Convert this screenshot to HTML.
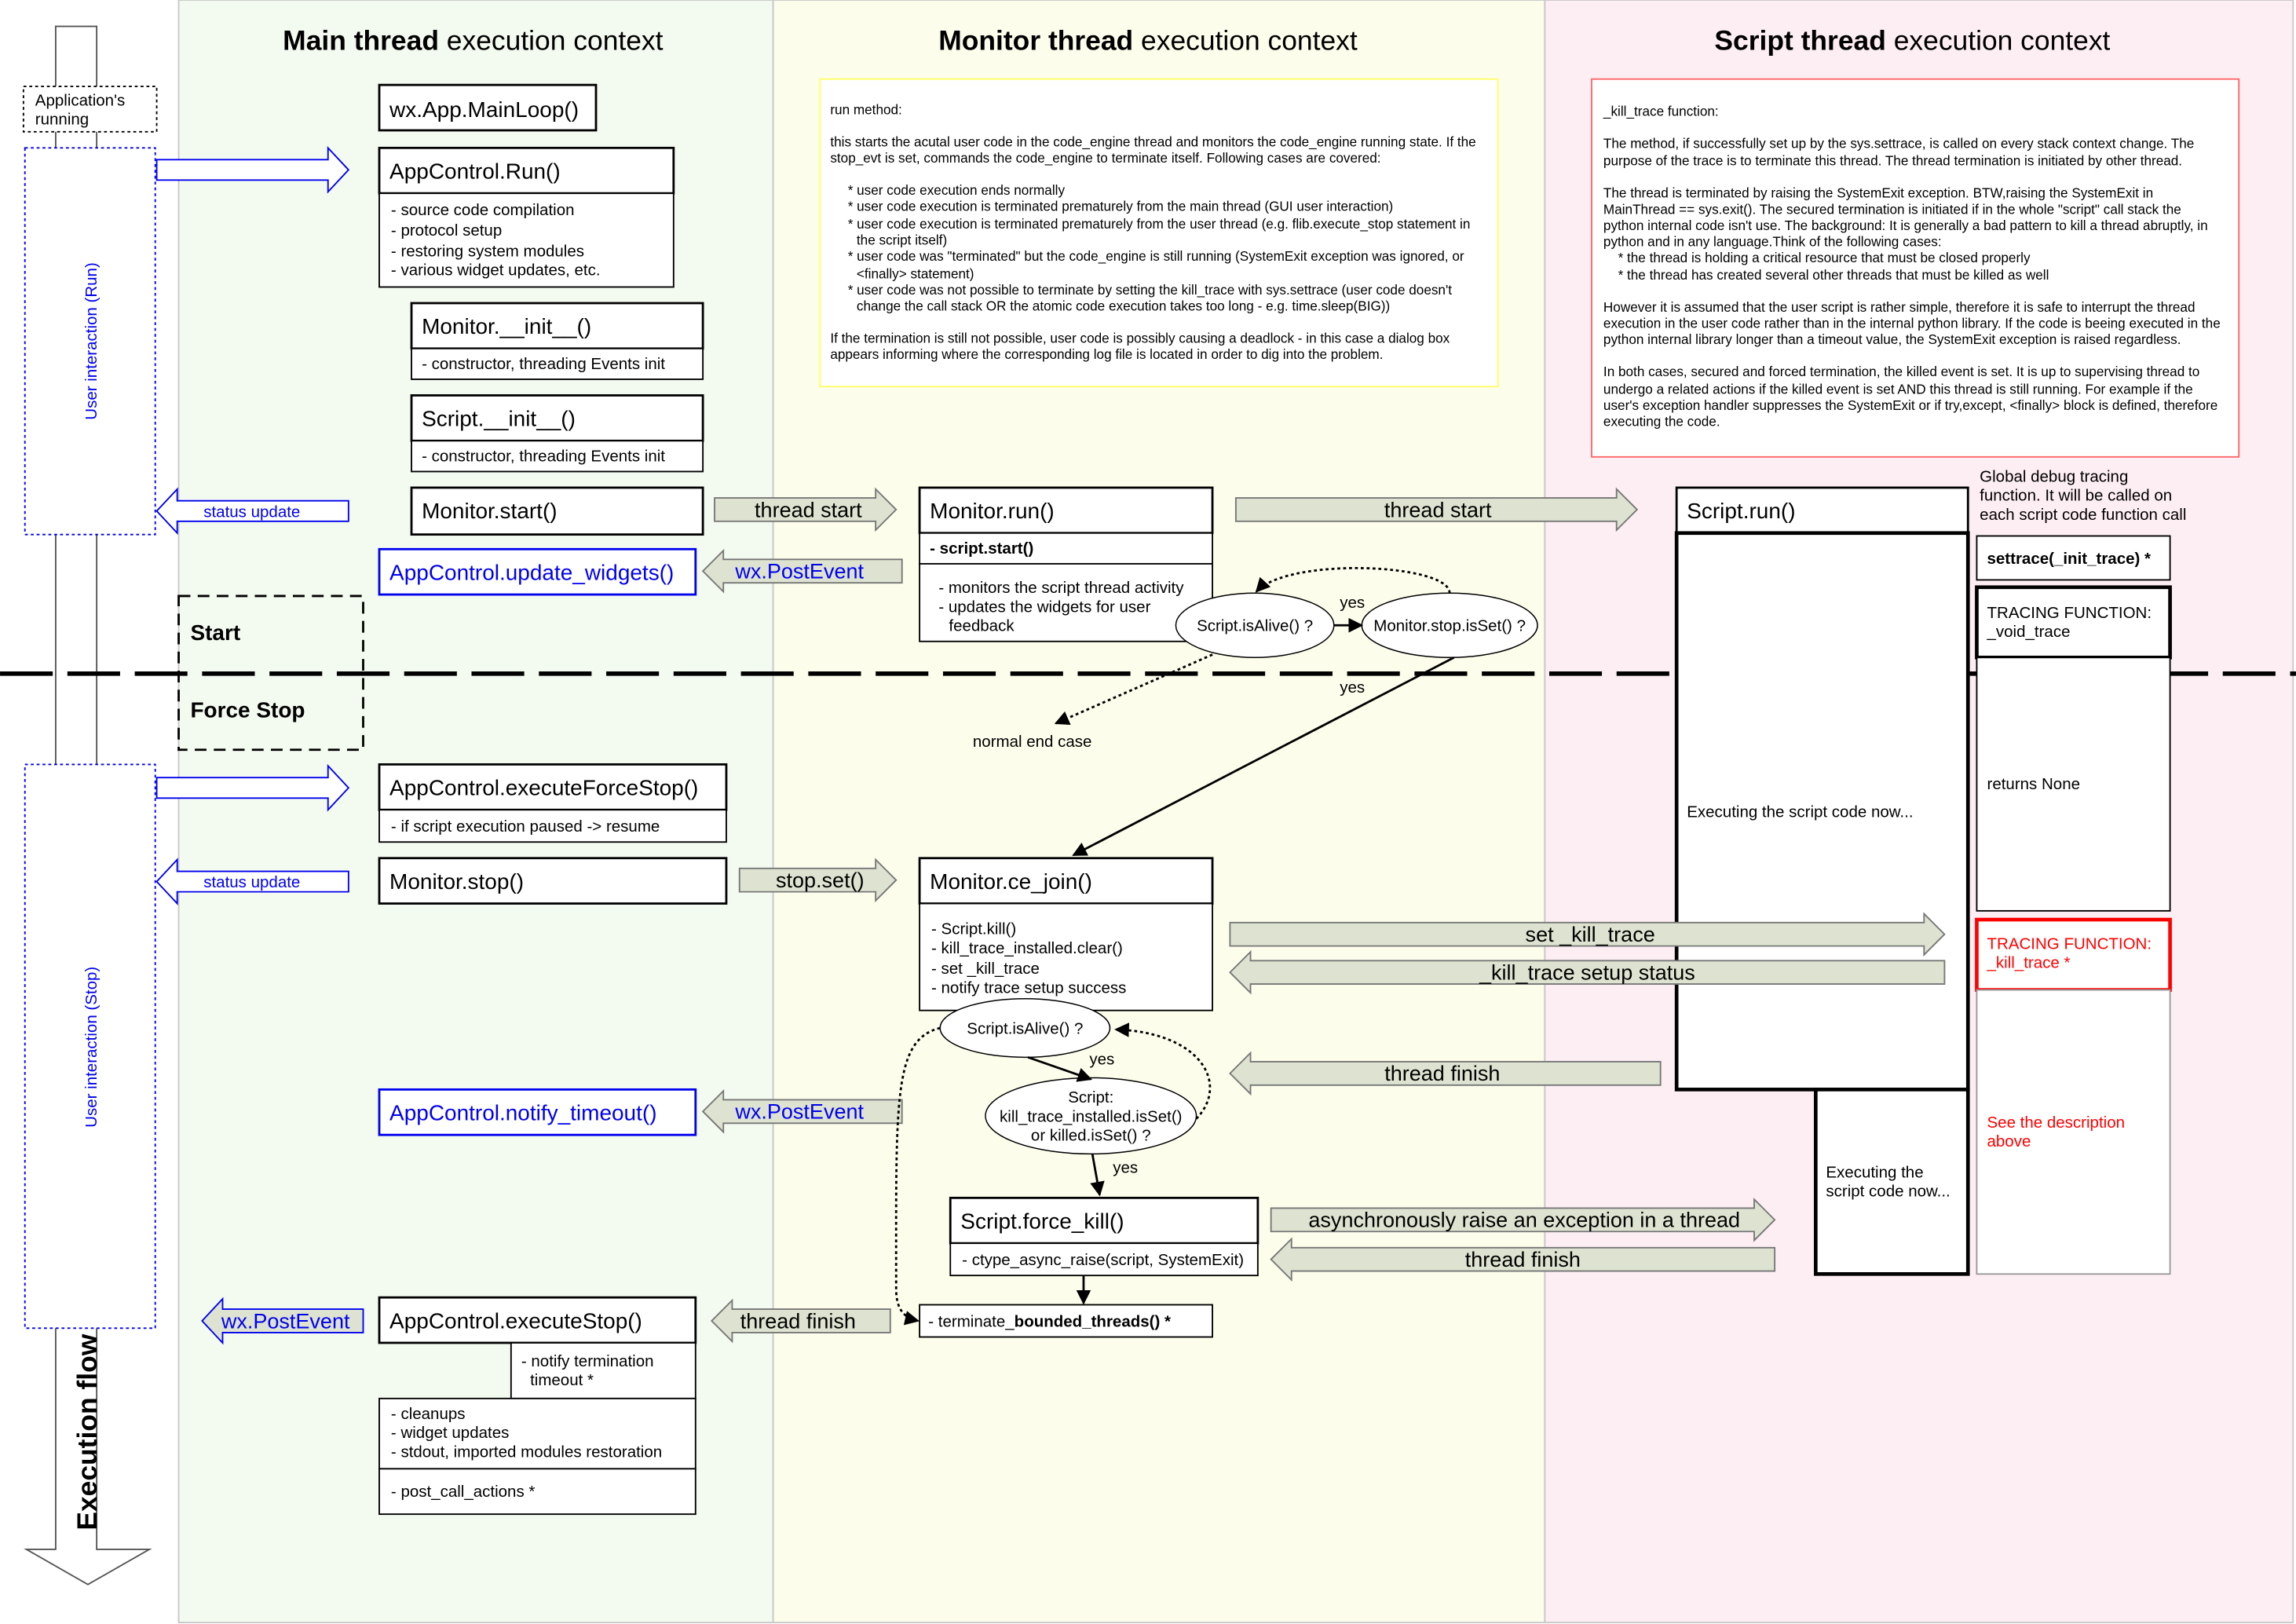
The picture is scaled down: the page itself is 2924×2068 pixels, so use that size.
<!DOCTYPE html>
<html><head><meta charset="utf-8"><style>
html,body{margin:0;padding:0;background:#fff}
svg{display:block}
text{font-family:"Liberation Sans",Arial,sans-serif;fill:#000}
.t{font-size:15px}
.b{font-size:11px}
.s{font-size:9.2px}
.a{font-size:14.5px}
.blue{fill:#0000ee}
.red{fill:#ff0000}
</style></head><body>
<svg width="2924" height="2068" viewBox="0 0 1568 1109" xmlns="http://www.w3.org/2000/svg">
<defs>
<marker id="ah" markerWidth="10" markerHeight="10" refX="9" refY="5" orient="auto" markerUnits="userSpaceOnUse"><path d="M0,0 L10,5 L0,10 z" fill="#000"/></marker>
</defs>
<rect width="1568" height="1109" fill="#fff"/>
<rect x="122" y="0" width="406" height="1108" fill="#f3faf0" stroke="#c8c8c8"/>
<rect x="528" y="0" width="527" height="1108" fill="#fdfdec" stroke="#c8c8c8"/>
<rect x="1055" y="0" width="511" height="1108" fill="#fdeef3" stroke="#c8c8c8"/>
<text x="323" y="34" font-size="19" text-anchor="middle"><tspan font-weight="bold">Main thread</tspan> execution context</text>
<text x="784" y="34" font-size="19" text-anchor="middle"><tspan font-weight="bold">Monitor thread</tspan> execution context</text>
<text x="1306" y="34" font-size="19" text-anchor="middle"><tspan font-weight="bold">Script thread</tspan> execution context</text>

<polygon points="38,18 66,18 66,1058 102,1058 60,1082 18,1058 38,1058" fill="#fff" stroke="#555"/>
<text transform="translate(66,978) rotate(-90)" font-size="19" font-weight="bold" text-anchor="middle">Execution flow</text>
<rect x="16" y="59" width="91" height="31" fill="#fff" stroke="#000" stroke-dasharray="2,2"/>
<text x="24" y="72" class="b">Application's</text>
<text x="24" y="85" class="b">running</text>
<rect x="17" y="101" width="89" height="264" fill="#fff" stroke="#0000ee" stroke-dasharray="2,2"/>
<text transform="translate(66,233) rotate(-90)" class="b blue" text-anchor="middle">User interaction (Run)</text>
<rect x="17" y="522" width="89" height="385" fill="#fff" stroke="#0000ee" stroke-dasharray="2,2"/>
<text transform="translate(66,715) rotate(-90)" class="b blue" text-anchor="middle">User interaction (Stop)</text>

<polygon points="107,109 224,109 224,101 238,116 224,131 224,123 107,123" fill="#fff" stroke="#0000ee"/>
<polygon points="107,531 224,531 224,523 238,538 224,553 224,545 107,545" fill="#fff" stroke="#0000ee"/>
<polygon points="238,342 121,342 121,334 107,349 121,364 121,356 238,356" fill="#fff" stroke="#0000ee"/>
<text x="172" y="353" class="b blue" text-anchor="middle">status update</text>
<polygon points="238,595 121,595 121,587 107,602 121,617 121,609 238,609" fill="#fff" stroke="#0000ee"/>
<text x="172" y="606" class="b blue" text-anchor="middle">status update</text>
<polygon points="248,894 152,894 152,887 138,902 152,917 152,910 248,910" fill="#dde3d0" stroke="#0000ee"/>
<text x="195" y="907" class="a blue" text-anchor="middle">wx.PostEvent</text>

<line x1="0" y1="460" x2="1568" y2="460" stroke="#000" stroke-width="3" stroke-dasharray="36,10"/>
<rect x="122" y="407" width="126" height="105" fill="none" stroke="#000" stroke-width="1.5" stroke-dasharray="8,5"/>
<text x="130" y="437" font-size="15" font-weight="bold">Start</text>
<text x="130" y="490" font-size="15" font-weight="bold">Force Stop</text>

<g fill="#fff" stroke="#000">
<rect x="259" y="58" width="148" height="31" stroke-width="1.5"/>
<rect x="259" y="101" width="201" height="31" stroke-width="1.5"/>
<rect x="259" y="132" width="201" height="64"/>
<rect x="281" y="207" width="199" height="31" stroke-width="1.5"/>
<rect x="281" y="238" width="199" height="21"/>
<rect x="281" y="270" width="199" height="31" stroke-width="1.5"/>
<rect x="281" y="301" width="199" height="21"/>
<rect x="281" y="333" width="199" height="32" stroke-width="1.5"/>
<rect x="259" y="375" width="216" height="31" stroke="#0000ee" stroke-width="1.5"/>
<rect x="259" y="522" width="237" height="31" stroke-width="1.5"/>
<rect x="259" y="553" width="237" height="22"/>
<rect x="259" y="586" width="237" height="31" stroke-width="1.5"/>
<rect x="259" y="744" width="216" height="31" stroke="#0000ee" stroke-width="1.5"/>
<rect x="259" y="886" width="216" height="31" stroke-width="1.5"/>
<rect x="349" y="917" width="126" height="38"/>
<rect x="259" y="955" width="216" height="48"/>
<rect x="259" y="1003" width="216" height="31"/>
</g>
<text x="266" y="80" class="t">wx.App.MainLoop()</text>
<text x="266" y="122" class="t">AppControl.Run()</text>
<text x="267" y="147" class="b">- source code compilation</text>
<text x="267" y="161" class="b">- protocol setup</text>
<text x="267" y="175" class="b">- restoring system modules</text>
<text x="267" y="188" class="b">- various widget updates, etc.</text>
<text x="288" y="228" class="t">Monitor.__init__()</text>
<text x="288" y="252" class="b">- constructor, threading Events init</text>
<text x="288" y="291" class="t">Script.__init__()</text>
<text x="288" y="315" class="b">- constructor, threading Events init</text>
<text x="288" y="354" class="t">Monitor.start()</text>
<text x="266" y="396" class="t blue">AppControl.update_widgets()</text>
<text x="266" y="543" class="t">AppControl.executeForceStop()</text>
<text x="267" y="568" class="b">- if script execution paused -&gt; resume</text>
<text x="266" y="607" class="t">Monitor.stop()</text>
<text x="266" y="765" class="t blue">AppControl.notify_timeout()</text>
<text x="266" y="907" class="t">AppControl.executeStop()</text>
<text x="356" y="933" class="b">- notify termination</text>
<text x="362" y="946" class="b">timeout *</text>
<text x="267" y="969" class="b">- cleanups</text>
<text x="267" y="982" class="b">- widget updates</text>
<text x="267" y="995" class="b">- stdout, imported modules restoration</text>
<text x="267" y="1022" class="b">- post_call_actions *</text>

<g fill="#dde3d0" stroke="#777">
<polygon points="488,340 598,340 598,334 612,348 598,362 598,356 488,356"/>
<polygon points="616,382 494,382 494,376 480,390 494,404 494,398 616,398"/>
<polygon points="505,593 598,593 598,587 612,601 598,615 598,609 505,609"/>
<polygon points="616,751 494,751 494,745 480,759 494,773 494,767 616,767"/>
<polygon points="608,894 500,894 500,888 486,902 500,916 500,910 608,910"/>
<polygon points="844,340 1104,340 1104,334 1118,348 1104,362 1104,356 844,356"/>
<polygon points="1134,725 854,725 854,719 840,733 854,747 854,741 1134,741"/>
<polygon points="868,825 1198,825 1198,819 1212,833 1198,847 1198,841 868,841"/>
<polygon points="1212,852 882,852 882,846 868,860 882,874 882,868 1212,868"/>
</g>
<text x="552" y="353" class="a" text-anchor="middle">thread start</text>
<text x="546" y="395" class="a blue" text-anchor="middle">wx.PostEvent</text>
<text x="560" y="606" class="a" text-anchor="middle">stop.set()</text>
<text x="546" y="764" class="a blue" text-anchor="middle">wx.PostEvent</text>
<text x="545" y="907" class="a" text-anchor="middle">thread finish</text>
<text x="982" y="353" class="a" text-anchor="middle">thread start</text>
<text x="985" y="738" class="a" text-anchor="middle">thread finish</text>
<text x="1041" y="838" class="a" text-anchor="middle">asynchronously raise an exception in a thread</text>
<text x="1040" y="865" class="a" text-anchor="middle">thread finish</text>

<rect x="560" y="54" width="463" height="210" fill="#fff" stroke="#ffff66"/>
<text x="567" y="78" class="s">run method:</text>
<text x="567" y="100" class="s">this starts the acutal user code in the code_engine thread and monitors the code_engine running state. If the</text>
<text x="567" y="111" class="s">stop_evt is set, commands the code_engine to terminate itself. Following cases are covered:</text>
<text x="579" y="133" class="s">* user code execution ends normally</text>
<text x="579" y="144" class="s">* user code execution is terminated prematurely from the main thread (GUI user interaction)</text>
<text x="579" y="156" class="s">* user code execution is terminated prematurely from the user thread (e.g. flib.execute_stop statement in</text>
<text x="585" y="167" class="s">the script itself)</text>
<text x="579" y="178" class="s">* user code was "terminated" but the code_engine is still running (SystemExit exception was ignored, or</text>
<text x="585" y="190" class="s">&lt;finally&gt; statement)</text>
<text x="579" y="201" class="s">* user code was not possible to terminate by setting the kill_trace with sys.settrace (user code doesn't</text>
<text x="585" y="212" class="s">change the call stack OR the atomic code execution takes too long - e.g. time.sleep(BIG))</text>
<text x="567" y="234" class="s">If the termination is still not possible, user code is possibly causing a deadlock - in this case a dialog box</text>
<text x="567" y="245" class="s">appears informing where the corresponding log file is located in order to dig into the problem.</text>

<g fill="#fff" stroke="#000">
<rect x="628" y="333" width="200" height="31" stroke-width="1.5"/>
<rect x="628" y="364" width="200" height="21"/>
<rect x="628" y="385" width="200" height="53"/>
<rect x="628" y="586" width="200" height="31" stroke-width="1.5"/>
<rect x="628" y="617" width="200" height="73"/>
<rect x="649" y="818" width="210" height="31" stroke-width="1.5"/>
<rect x="649" y="849" width="210" height="22"/>
<rect x="628" y="891" width="200" height="22"/>
</g>
<text x="635" y="354" class="t">Monitor.run()</text>
<text x="635" y="378" class="b" font-weight="bold">- script.start()</text>
<text x="641" y="405" class="b">- monitors the script thread activity</text>
<text x="641" y="418" class="b">- updates the widgets for user</text>
<text x="648" y="431" class="b">feedback</text>
<text x="635" y="607" class="t">Monitor.ce_join()</text>
<text x="636" y="638" class="b">- Script.kill()</text>
<text x="636" y="651" class="b">- kill_trace_installed.clear()</text>
<text x="636" y="665" class="b">- set _kill_trace</text>
<text x="636" y="678" class="b">- notify trace setup success</text>
<text x="656" y="839" class="t">Script.force_kill()</text>
<text x="657" y="864" class="b">- ctype_async_raise(script, SystemExit)</text>
<text x="634" y="906" class="b">- terminate_<tspan font-weight="bold">bounded_threads() *</tspan></text>

<g fill="#fff" stroke="#000" stroke-width="0.8">
<ellipse cx="857" cy="427" rx="54" ry="22"/>
<ellipse cx="990" cy="427" rx="60" ry="22"/>
<ellipse cx="700" cy="702" rx="58" ry="20"/>
<ellipse cx="745" cy="762" rx="72" ry="26"/>
</g>
<text x="857" y="431" class="b" text-anchor="middle">Script.isAlive() ?</text>
<text x="990" y="431" class="b" text-anchor="middle">Monitor.stop.isSet() ?</text>
<text x="700" y="706" class="b" text-anchor="middle">Script.isAlive() ?</text>
<text x="745" y="753" class="b" text-anchor="middle">Script:</text>
<text x="745" y="766" class="b" text-anchor="middle">kill_trace_installed.isSet()</text>
<text x="745" y="779" class="b" text-anchor="middle">or killed.isSet() ?</text>

<g stroke="#000" fill="none" stroke-width="1.5">
<line x1="911" y1="427" x2="930" y2="427" marker-end="url(#ah)"/>
<path d="M990,405 C990,385 880,380 858,404" stroke-dasharray="2,2" marker-end="url(#ah)"/>
<line x1="828" y1="447" x2="721" y2="494" stroke-dasharray="2,2" marker-end="url(#ah)"/>
<line x1="993" y1="449" x2="733" y2="584" marker-end="url(#ah)"/>
<line x1="702" y1="722" x2="745" y2="737" marker-end="url(#ah)"/>
<path d="M817,764 C840,740 820,705 762,703" stroke-dasharray="2,2" marker-end="url(#ah)"/>
<line x1="746" y1="788" x2="751" y2="816" marker-end="url(#ah)"/>
<path d="M642,702 C610,710 612,750 612,880 C612,895 618,900 627,902" stroke-dasharray="2,2" marker-end="url(#ah)"/>
<line x1="740" y1="871" x2="740" y2="890" marker-end="url(#ah)"/>
</g>
<text x="915" y="415" class="b">yes</text>
<text x="915" y="473" class="b">yes</text>
<text x="705" y="510" class="b" text-anchor="middle">normal end case</text>
<text x="744" y="727" class="b">yes</text>
<text x="760" y="801" class="b">yes</text>

<rect x="1087" y="54" width="442" height="258" fill="#fff" stroke="#ff6666"/>
<text x="1095" y="79" class="s">_kill_trace function:</text>
<text x="1095" y="101" class="s">The method, if successfully set up by the sys.settrace, is called on every stack context change. The</text>
<text x="1095" y="113" class="s">purpose of the trace is to terminate this thread. The thread termination is initiated by other thread.</text>
<text x="1095" y="135" class="s">The thread is terminated by raising the SystemExit exception. BTW,raising the SystemExit in</text>
<text x="1095" y="146" class="s">MainThread == sys.exit(). The secured termination is initiated if in the whole "script" call stack the</text>
<text x="1095" y="157" class="s">python internal code isn't use. The background: It is generally a bad pattern to kill a thread abruptly, in</text>
<text x="1095" y="168" class="s">python and in any language.Think of the following cases:</text>
<text x="1105" y="179" class="s">* the thread is holding a critical resource that must be closed properly</text>
<text x="1105" y="191" class="s">* the thread has created several other threads that must be killed as well</text>
<text x="1095" y="213" class="s">However it is assumed that the user script is rather simple, therefore it is safe to interrupt the thread</text>
<text x="1095" y="224" class="s">execution in the user code rather than in the internal python library. If the code is beeing executed in the</text>
<text x="1095" y="235" class="s">python internal library longer than a timeout value, the SystemExit exception is raised regardless.</text>
<text x="1095" y="257" class="s">In both cases, secured and forced termination, the killed event is set. It is up to supervising thread to</text>
<text x="1095" y="269" class="s">undergo a related actions if the killed event is set AND this thread is still running. For example if the</text>
<text x="1095" y="280" class="s">user's exception handler suppresses the SystemExit or if try,except, &lt;finally&gt; block is defined, therefore</text>
<text x="1095" y="291" class="s">executing the code.</text>

<g fill="#fff" stroke="#000">
<rect x="1145" y="333" width="199" height="31" stroke-width="1.5"/>
<rect x="1145" y="364" width="199" height="380" stroke-width="2.5"/>
<rect x="1240" y="744" width="104" height="126" stroke-width="2.5"/>
<rect x="1350" y="366" width="132" height="30"/>
<rect x="1350" y="401" width="132" height="48" stroke-width="2.5"/>
<rect x="1350" y="449" width="132" height="173"/>
<rect x="1350" y="628" width="132" height="48" stroke="#ff0000" stroke-width="2.5"/>
<rect x="1350" y="676" width="132" height="194" stroke="#999"/>
</g>
<text x="1152" y="354" class="t">Script.run()</text>
<text x="1152" y="558" class="b">Executing the script code now...</text>
<text x="1247" y="804" class="b">Executing the</text>
<text x="1247" y="817" class="b">script code now...</text>
<text x="1352" y="329" class="b">Global debug tracing</text>
<text x="1352" y="342" class="b">function. It will be called on</text>
<text x="1352" y="355" class="b">each script code function call</text>
<text x="1357" y="385" class="b" font-weight="bold">settrace(_init_trace) *</text>
<text x="1357" y="422" class="b">TRACING FUNCTION:</text>
<text x="1357" y="435" class="b">_void_trace</text>
<text x="1357" y="539" class="b">returns None</text>
<text x="1357" y="648" class="b red">TRACING FUNCTION:</text>
<text x="1357" y="661" class="b red">_kill_trace *</text>
<text x="1357" y="770" class="b red">See the description</text>
<text x="1357" y="783" class="b red">above</text>

<g fill="#dde3d0" stroke="#777">
<polygon points="840,630 1314,630 1314,624 1328,638 1314,652 1314,646 840,646"/>
<polygon points="1328,656 854,656 854,650 840,664 854,678 854,672 1328,672"/>
</g>
<text x="1086" y="643" class="a" text-anchor="middle">set _kill_trace</text>
<text x="1084" y="669" class="a" text-anchor="middle">_kill_trace setup status</text>
</svg>
</body></html>
